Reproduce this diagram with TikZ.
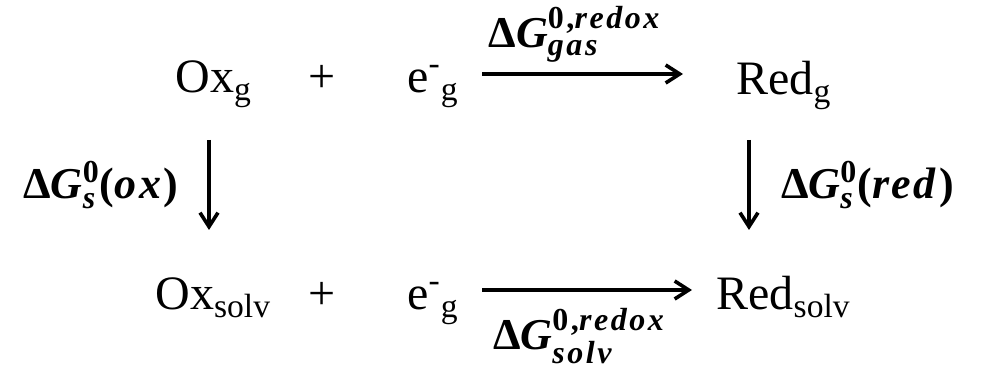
\documentclass[tikz,border=0pt]{standalone}
\usepackage{amsmath}
\usepackage{fontspec}
\setmainfont{Liberation Serif}
\usetikzlibrary{arrows.meta}
\DeclareMathSizes{22}{22}{16}{12}
\newcommand{\dGlab}[2]{$\text{\bfseries Δ\itshape G}^{\text{\bfseries\addfontfeature{LetterSpace=8} #1}}_{\text{\bfseries\itshape\addfontfeature{LetterSpace=8} #2}}$}

\begin{document}
\begin{tikzpicture}[x=0.5pt, y=-0.5pt,
  species/.style={anchor=base west, inner sep=0pt, font=\fontsize{24}{28}\selectfont},
  op/.style={anchor=base, inner sep=0pt, font=\fontsize{24}{28}\selectfont},
  arr/.style={-{Straight Barb[length=7pt, width=9pt, line width=1.8pt]}, line width=2pt, black},
  lab/.style={font=\fontsize{22}{26}\selectfont\addfontfeature{LetterSpace=6}, inner sep=0pt}
]
\useasboundingbox (0,0) rectangle (982,368);
\node[species] (oxg) at (175,93) {Ox\textsubscript{g}};
\node[op] (p1) at (322,93) {+};
\node[species] (eg1) at (407,93) {e\textsuperscript{-}\textsubscript{g}};
\node[species] (redg) at (736,95) {Red\textsubscript{g}};
\node[species] (oxs) at (155,310) {Ox\textsubscript{solv}};
\node[op] (p2) at (322,310) {+};
\node[species] (eg2) at (407,310) {e\textsuperscript{-}\textsubscript{g}};
\node[species] (reds) at (716,310) {Red\textsubscript{solv}};
\draw[arr] ([shift={(75,-19)}]eg1.base west) -- node[lab, above=5pt, xshift=-4pt] {\dGlab{0,\itshape redox}{gas}} ([shift={(-53,-21)}]redg.base west);
\draw[arr] ([shift={(75,-20)}]eg2.base west) -- node[lab, below=8pt, xshift=-4pt] {\dGlab{0,\itshape redox}{solv}} ([shift={(-24,-20)}]reds.base west);
\draw[arr] ([shift={(34,47)}]oxg.base west) -- node[lab, left=13pt] {\dGlab{0}{s}\textbf{(\textit{ox})}} ([shift={(54,-80)}]oxs.base west);
\draw[arr] ([shift={(13,45)}]redg.base west) -- node[lab, right=15pt] {\dGlab{0}{s}\textbf{(\textit{red})}} ([shift={(33,-80)}]reds.base west);
\end{tikzpicture}
\end{document}
